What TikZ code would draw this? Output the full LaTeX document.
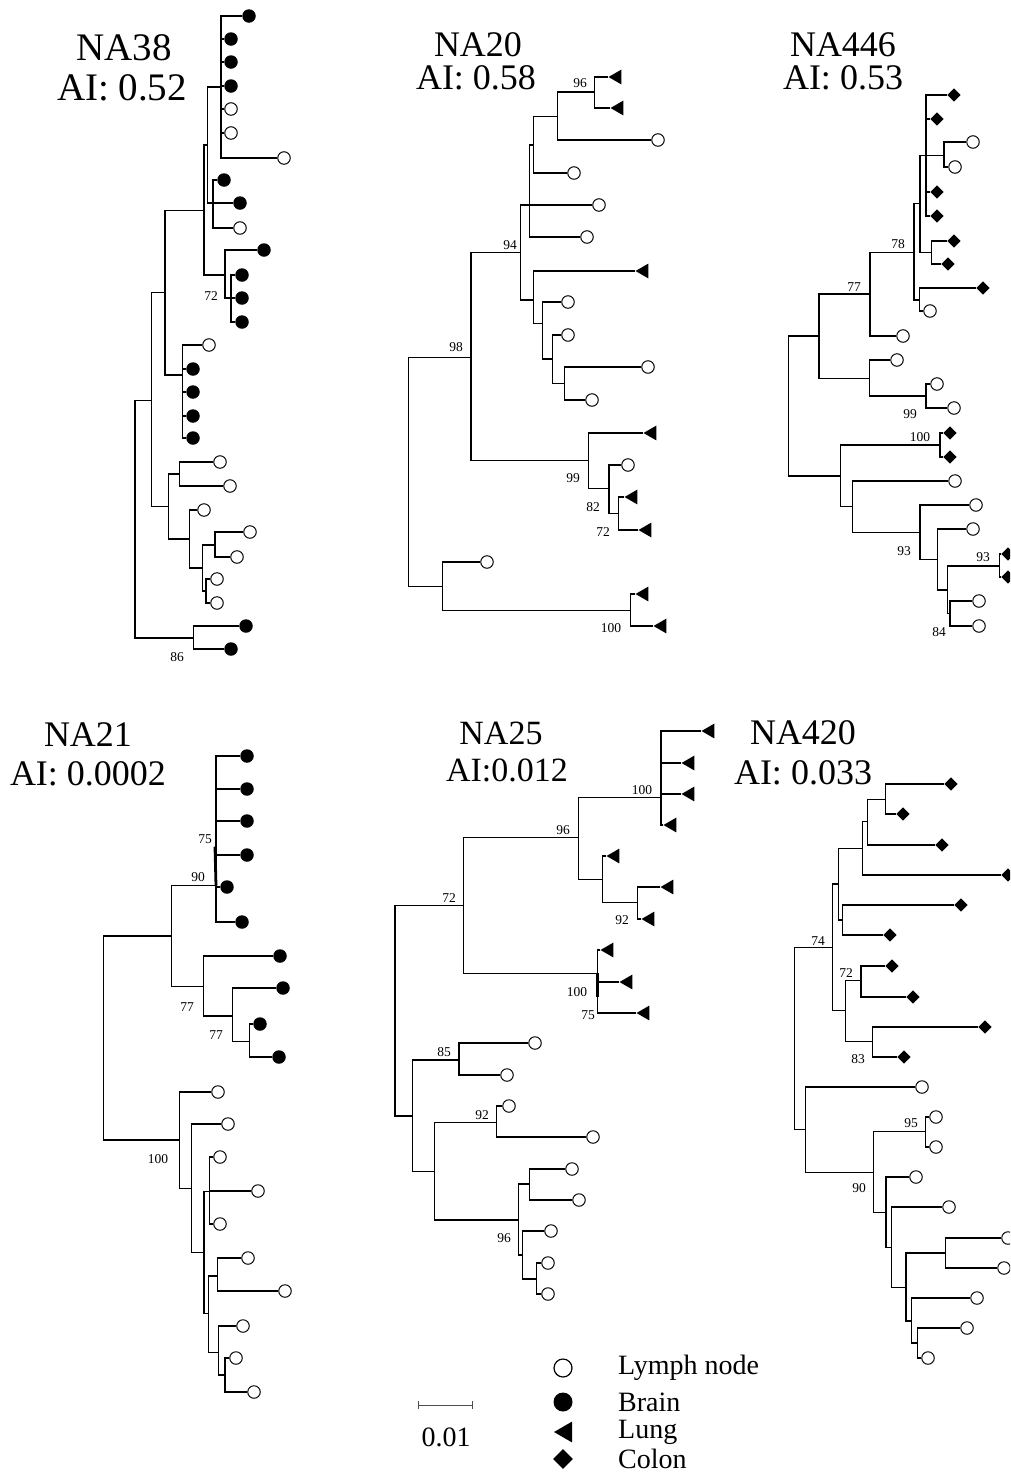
\documentclass[tikz,border=0pt]{standalone}
\usepackage{fontspec}
\setmainfont{Liberation Serif}
\usetikzlibrary{shapes.geometric}
\tikzset{
 br/.style={line width=1.35pt},
 lo/.style={circle, draw, line width=1pt, fill=white, minimum size=12.5pt, inner sep=0pt},
 lf/.style={circle, fill=black, minimum size=13.5pt, inner sep=0pt},
 lt/.style={regular polygon, regular polygon sides=3, shape border rotate=90, fill=black, minimum size=17pt, inner sep=0pt},
 ld/.style={diamond, fill=black, minimum size=13.5pt, inner sep=0pt},
 bs/.style={font=\fontsize{13.5}{13.5}\selectfont, inner sep=0pt},
 ttl/.style={font=\fontsize{36}{36}\selectfont, inner sep=0pt},
 lg/.style={font=\fontsize{28}{28}\selectfont, inner sep=0pt, anchor=west},
 thk/.style={line width=2.8pt},
}
\newcommand\Lf[4]{\node[#2] (#1) at (#3,#4) {};}
\newcommand\Cd[3]{\coordinate (#1) at (#2,#3);}
\newcommand\Ed[2]{\foreach \ch in {#2} {\draw[br] (#1) |- (\ch);}}
\newcommand\Lb[4]{\node[bs] (#1) at (#2,#3) {#4};}
\begin{document}
\begin{tikzpicture}[x=1pt,y=-1pt]
\useasboundingbox (0,0) rectangle (1010,1473);
\clip (0,0) rectangle (1010,1473);
\fill[white] (0,0) rectangle (1010,1473);

% ================= NA38 =================
\node[ttl, font=\fontsize{39}{39}\selectfont] (t38a) at (124,48) {NA38};
\node[ttl, font=\fontsize{39}{39}\selectfont] (t38b) at (122,88) {AI: 0.52};
\Lf{a1}{lf}{249}{16}\Lf{a2}{lf}{231}{39}\Lf{a3}{lf}{231}{62}\Lf{a4}{lf}{231}{86}
\Lf{a5}{lo}{231}{109}\Lf{a6}{lo}{231}{133}\Lf{a7}{lo}{284}{158}
\Lf{a8}{lf}{224}{180}\Lf{a9}{lf}{240}{203}\Lf{a10}{lo}{240}{228}
\Lf{a11}{lf}{264}{250}\Lf{a12}{lf}{242}{275}\Lf{a13}{lf}{242}{298}\Lf{a14}{lf}{242}{322}
\Lf{a15}{lo}{209}{345}\Lf{a16}{lf}{193}{369}\Lf{a17}{lf}{193}{392}\Lf{a18}{lf}{193}{416}\Lf{a19}{lf}{193}{438}
\Lf{a20}{lo}{220}{462}\Lf{a21}{lo}{230}{486}\Lf{a22}{lo}{204}{510}\Lf{a23}{lo}{250}{532}\Lf{a24}{lo}{237}{557}
\Lf{a25}{lo}{217}{579}\Lf{a26}{lo}{217}{603}\Lf{a27}{lf}{246}{626}\Lf{a28}{lf}{231}{649}
\Cd{an1}{221}{87}\Cd{an2}{213}{203}\Cd{an3}{207.7}{145}\Cd{an5}{231}{298}\Cd{an6}{225}{275}
\Cd{an4}{204}{210.7}\Cd{an7}{182.3}{375}\Cd{an8}{165}{292.3}\Cd{an9}{179.3}{474}
\Cd{an10}{215}{545}\Cd{an11}{206}{591}\Cd{an12}{202.3}{568}\Cd{an13}{189.3}{539}
\Cd{an14}{168.3}{506.7}\Cd{an15}{151.7}{400.7}\Cd{an16}{193.3}{638}\Cd{r38}{135}{520}
\Ed{an1}{a1,a2,a3,a4,a5,a6,a7}
\Ed{an2}{a8,a9,a10}
\Ed{an3}{an1,an2}
\Ed{an5}{a12,a13,a14}
\Ed{an6}{a11,an5}
\Ed{an4}{an3,an6}
\Ed{an7}{a15,a16,a17,a18,a19}
\Ed{an8}{an4,an7}
\Ed{an9}{a20,a21}
\Ed{an10}{a23,a24}
\Ed{an11}{a25,a26}
\Ed{an12}{an10,an11}
\Ed{an13}{a22,an12}
\Ed{an14}{an9,an13}
\Ed{an15}{an8,an14}
\Ed{an16}{a27,a28}
\Ed{r38}{an15,an16}
\Lb{la72}{211}{296}{72}
\Lb{la86}{177}{657}{86}

% ================= NA20 =================
\node[ttl] (t20a) at (478,45) {NA20};
\node[ttl] (t20b) at (476,78) {AI: 0.58};
\Lf{b1}{lt}{617}{77}\Lf{b2}{lt}{619}{108}\Lf{b3}{lo}{658}{140}\Lf{b4}{lo}{574}{173}
\Lf{b5}{lo}{599}{205}\Lf{b6}{lo}{587}{237}\Lf{b7}{lt}{644}{271}\Lf{b8}{lo}{568}{302}
\Lf{b9}{lo}{568}{335}\Lf{b10}{lo}{648}{367}\Lf{b11}{lo}{592}{400}
\Lf{b12}{lt}{652}{433}\Lf{b13}{lo}{628}{465}\Lf{b14}{lt}{633}{497}\Lf{b15}{lt}{647}{530}
\Lf{b16}{lo}{487}{562}\Lf{b17}{lt}{644}{594}\Lf{b18}{lt}{662}{626}
\Cd{m1}{594.3}{92}\Cd{m2}{557.3}{116.7}\Cd{m3}{533.3}{145}\Cd{m4}{529.3}{205}
\Cd{m5}{564.3}{383.3}\Cd{m6}{552.7}{359}\Cd{m7}{542.7}{323.3}\Cd{m8}{533.3}{300}
\Cd{m94}{520.7}{252.7}\Cd{m72}{618.3}{513.3}\Cd{m82}{609}{488.3}\Cd{m99}{588.3}{460.7}
\Cd{m98}{471}{357.3}\Cd{m100}{630.7}{610.7}\Cd{m9}{442.7}{586.7}\Cd{r20}{408.3}{472}
\Ed{m1}{b1,b2}
\Ed{m2}{m1,b3}
\Ed{m3}{m2,b4}
\Ed{m4}{m3,b5,b6}
\Ed{m5}{b10,b11}
\Ed{m6}{b9,m5}
\Ed{m7}{b8,m6}
\Ed{m8}{b7,m7}
\Ed{m94}{m4,m8}
\Ed{m72}{b14,b15}
\Ed{m82}{b13,m72}
\Ed{m99}{b12,m82}
\Ed{m98}{m94,m99}
\Ed{m100}{b17,b18}
\Ed{m9}{b16,m100}
\Ed{r20}{m98,m9}
\Lb{lb96}{580}{83}{96}
\Lb{lb94}{510}{245}{94}
\Lb{lb98}{456}{347}{98}
\Lb{lb99}{573}{478}{99}
\Lb{lb82}{593}{507}{82}
\Lb{lb72}{603}{532}{72}
\Lb{lb100}{611}{628}{100}

% ================= NA446 =================
\node[ttl] (t446a) at (843,45) {NA446};
\node[ttl] (t446b) at (843,78) {AI: 0.53};
\Lf{c1}{ld}{954}{95}\Lf{c2}{ld}{937}{119}\Lf{c3}{lo}{973}{142}\Lf{c4}{lo}{955}{167}
\Lf{c5}{ld}{937}{192}\Lf{c6}{ld}{937}{216}\Lf{c7}{ld}{954}{241}\Lf{c8}{ld}{948}{264}
\Lf{c9}{ld}{983}{288}\Lf{c10}{lo}{930}{311}\Lf{c11}{lo}{903}{336}\Lf{c12}{lo}{897}{360}
\Lf{c13}{lo}{937}{384}\Lf{c14}{lo}{954}{408}\Lf{c15}{ld}{950}{433}\Lf{c16}{ld}{950}{457}
\Lf{c17}{lo}{955}{481}\Lf{c18}{lo}{976}{505}\Lf{c19}{lo}{973}{529}
\Lf{c20}{ld}{1008}{554}\Lf{c21}{ld}{1008}{577}\Lf{c22}{lo}{979}{601}\Lf{c23}{lo}{979}{626}
\Cd{k1}{944}{155.7}\Cd{k2}{926}{155.7}\Cd{k3}{931.7}{252.3}\Cd{kQ}{920}{203.3}
\Cd{k4}{919.3}{300}\Cd{k78}{914}{252.3}\Cd{k77}{870}{294}\Cd{k99}{926}{396}
\Cd{k5}{869.3}{378.3}\Cd{k6}{819}{336}\Cd{k100}{940}{445}\Cd{k93b}{999.3}{566}
\Cd{k84}{950}{613.3}\Cd{k7}{947.7}{590}\Cd{k8}{937.7}{559.3}\Cd{k93a}{920}{532.3}
\Cd{k9}{852.7}{506.7}\Cd{k10}{840.7}{476}\Cd{r446}{788.3}{406}
\Ed{k1}{c3,c4}
\Ed{k2}{c1,c2,k1,c5,c6}
\Ed{k3}{c7,c8}
\Ed{kQ}{k2,k3}
\Ed{k4}{c9,c10}
\Ed{k78}{kQ,k4}
\Ed{k77}{k78,c11}
\Ed{k99}{c13,c14}
\Ed{k5}{c12,k99}
\Ed{k6}{k77,k5}
\Ed{k100}{c15,c16}
\Ed{k93b}{c20,c21}
\Ed{k84}{c22,c23}
\Ed{k7}{k93b,k84}
\Ed{k8}{c19,k7}
\Ed{k93a}{c18,k8}
\Ed{k9}{c17,k93a}
\Ed{k10}{k100,k9}
\Ed{r446}{k6,k10}
\Lb{lc78}{898}{244}{78}
\Lb{lc77}{854}{287}{77}
\Lb{lc99}{910}{414}{99}
\Lb{lc100}{920}{437}{100}
\Lb{lc93a}{904}{551}{93}
\Lb{lc93b}{983}{557}{93}
\Lb{lc84}{939}{632}{84}

% ================= NA21 =================
\node[ttl] (t21a) at (88,735) {NA21};
\node[ttl] (t21b) at (88,774) {AI: 0.0002};
\Lf{d1}{lf}{247}{756}\Lf{d2}{lf}{247}{789}\Lf{d3}{lf}{247}{821}\Lf{d4}{lf}{247}{855}
\Lf{d5}{lf}{227}{887}\Lf{d6}{lf}{242}{922}\Lf{d7}{lf}{280}{956}\Lf{d8}{lf}{283}{988}
\Lf{d9}{lf}{260}{1024}\Lf{d10}{lf}{279}{1057}
\Lf{f1}{lo}{218}{1092}\Lf{f2}{lo}{228}{1124}\Lf{f3}{lo}{220}{1157}\Lf{f4}{lo}{258}{1191}
\Lf{f5}{lo}{220}{1224}\Lf{f6}{lo}{248}{1258}\Lf{f7}{lo}{285}{1291}\Lf{f8}{lo}{243}{1326}
\Lf{f9}{lo}{236}{1358}\Lf{f10}{lo}{254}{1392}
\Cd{e90}{216}{885.7}\Cd{e1}{249.3}{1041.7}\Cd{e77b}{232.7}{1016}\Cd{e77a}{203.3}{986.7}
\Cd{e2}{171.7}{936}\Cd{e3}{209.3}{1191.7}\Cd{e4}{217.7}{1276}\Cd{e5}{225}{1375}
\Cd{e6}{218.3}{1352.7}\Cd{e7}{208.3}{1313.3}\Cd{e8}{204}{1252.7}\Cd{e9}{191.7}{1188.3}
\Cd{e100}{179.3}{1140}\Cd{r21}{103.3}{1038}
\Ed{e90}{d1,d2,d3,d4,d5,d6}
\draw[thk] (e90) -- ++(-1,-39);
\Ed{e1}{d9,d10}
\Ed{e77b}{d8,e1}
\Ed{e77a}{d7,e77b}
\Ed{e2}{e90,e77a}
\Ed{e3}{f3,f4,f5}
\Ed{e4}{f6,f7}
\Ed{e5}{f9,f10}
\Ed{e6}{f8,e5}
\Ed{e7}{e4,e6}
\Ed{e8}{e3,e7}
\Ed{e9}{f2,e8}
\Ed{e100}{f1,e9}
\Ed{r21}{e2,e100}
\Lb{ld75}{205}{839}{75}
\Lb{ld90}{198}{877}{90}
\Lb{ld77a}{187}{1007}{77}
\Lb{ld77b}{216}{1035}{77}
\Lb{ld100}{158}{1159}{100}

% ================= NA25 =================
\node[ttl, font=\fontsize{34}{34}\selectfont] (t25a) at (501,733) {NA25};
\node[ttl, font=\fontsize{34}{34}\selectfont] (t25b) at (507,770) {AI:0.012};
\Lf{g1}{lt}{710}{731}\Lf{g2}{lt}{690}{763}\Lf{g3}{lt}{690}{794}\Lf{g4}{lt}{672}{825}
\Lf{g5}{lt}{615}{856}\Lf{g6}{lt}{669}{887}\Lf{g7}{lt}{650}{919}
\Lf{g8}{lt}{609}{950}\Lf{g9}{lt}{628}{982}\Lf{g10}{lt}{645}{1013}
\Lf{g11}{lo}{535}{1043}\Lf{g12}{lo}{507}{1075}\Lf{g13}{lo}{509}{1106}\Lf{g14}{lo}{593}{1137}
\Lf{g15}{lo}{572}{1169}\Lf{g16}{lo}{579}{1200}\Lf{g17}{lo}{551}{1231}\Lf{g18}{lo}{548}{1263}
\Lf{g19}{lo}{548}{1294}
\Cd{h100a}{661}{797.7}\Cd{h92}{637.7}{902.7}\Cd{h1}{602.3}{879.3}\Cd{h96}{578.3}{837.7}
\Cd{h100b}{597.3}{973.3}\Cd{h72}{463.3}{905.7}\Cd{h85}{459}{1060}\Cd{h92b}{496.7}{1122.7}
\Cd{h2}{529.3}{1184}\Cd{h3}{536.7}{1279}\Cd{h4}{522.3}{1255}\Cd{h96b}{518.3}{1220}
\Cd{h5}{434.3}{1171.7}\Cd{h6}{412.3}{1116}\Cd{r25}{395}{1011}
\Ed{h100a}{g1,g2,g3,g4}
\draw[thk] (h100a) -- ++(0,-28);
\Ed{h92}{g6,g7}
\Ed{h1}{g5,h92}
\Ed{h96}{h100a,h1}
\Ed{h100b}{g8,g9,g10}
\draw[thk] (h100b) -- ++(0,24);
\Ed{h72}{h96,h100b}
\Ed{h85}{g11,g12}
\Ed{h92b}{g13,g14}
\Ed{h2}{g15,g16}
\Ed{h3}{g18,g19}
\Ed{h4}{g17,h3}
\Ed{h96b}{h2,h4}
\Ed{h5}{h92b,h96b}
\Ed{h6}{h85,h5}
\Ed{r25}{h72,h6}
\Lb{lg100a}{642}{790}{100}
\Lb{lg96}{563}{830}{96}
\Lb{lg72}{449}{898}{72}
\Lb{lg92}{622}{920}{92}
\Lb{lg100b}{577}{992}{100}
\Lb{lg75}{588}{1015}{75}
\Lb{lg85}{444}{1052}{85}
\Lb{lg92b}{482}{1115}{92}
\Lb{lg96b}{504}{1238}{96}

% ================= NA420 =================
\node[ttl] (t420a) at (803,733) {NA420};
\node[ttl] (t420b) at (803,773) {AI: 0.033};
\Lf{p1}{ld}{951}{784}\Lf{p2}{ld}{903}{814}\Lf{p3}{ld}{942}{845}\Lf{p4}{ld}{1008}{875}
\Lf{p5}{ld}{961}{905}\Lf{p6}{ld}{890}{935}\Lf{p7}{ld}{892}{966}\Lf{p8}{ld}{913}{997}
\Lf{p9}{ld}{985}{1027}\Lf{p10}{ld}{904}{1057}
\Lf{s1}{lo}{922}{1087}\Lf{s2}{lo}{936}{1117}\Lf{s3}{lo}{936}{1147}\Lf{s4}{lo}{916}{1177}
\Lf{s5}{lo}{949}{1207}\Lf{s6}{lo}{1008}{1238}\Lf{s7}{lo}{1004}{1268}\Lf{s8}{lo}{977}{1298}
\Lf{s9}{lo}{967}{1328}\Lf{s10}{lo}{928}{1358}
\Cd{q1}{885.7}{799.3}\Cd{q2}{867.3}{821.7}\Cd{q3}{862.7}{848.3}\Cd{q4}{842.7}{920}
\Cd{q5}{838.3}{884}\Cd{q72}{861}{980.7}\Cd{q83}{872.7}{1041.7}\Cd{q6}{845.7}{1010.7}
\Cd{q74}{832.3}{947.7}\Cd{q95}{925.7}{1131.7}\Cd{q7}{945.7}{1253}\Cd{q8}{917.3}{1343}
\Cd{q9}{911.7}{1321}\Cd{q10}{906}{1287.3}\Cd{q11}{891.7}{1247.3}\Cd{q12}{886}{1212.3}
\Cd{q90}{873.3}{1172.3}\Cd{q13}{805.7}{1129.3}\Cd{r420}{794.3}{1038}
\Ed{q1}{p1,p2}
\Ed{q2}{q1,p3}
\Ed{q3}{q2,p4}
\Ed{q4}{p5,p6}
\Ed{q5}{q3,q4}
\Ed{q72}{p7,p8}
\Ed{q83}{p9,p10}
\Ed{q6}{q72,q83}
\Ed{q74}{q5,q6}
\Ed{q95}{s2,s3}
\Ed{q7}{s6,s7}
\Ed{q8}{s9,s10}
\Ed{q9}{s8,q8}
\Ed{q10}{q7,q9}
\Ed{q11}{s5,q10}
\Ed{q12}{s4,q11}
\Ed{q90}{q95,q12}
\Ed{q13}{s1,q90}
\Ed{r420}{q74,q13}
\Lb{lq74}{818}{941}{74}
\Lb{lq72}{846}{973}{72}
\Lb{lq83}{858}{1059}{83}
\Lb{lq95}{911}{1123}{95}
\Lb{lq90}{859}{1188}{90}

% ================= legend =================
\coordinate (sb0) at (418,1405);
\coordinate (sb1) at (472,1405);
\draw[line width=0.9pt, black!70] (sb0) -- (sb1);
\draw[line width=0.9pt, black!70] ([yshift=4pt]sb0) -- ([yshift=-4pt]sb0);
\draw[line width=0.9pt, black!70] ([yshift=4pt]sb1) -- ([yshift=-4pt]sb1);
\node[font=\fontsize{28}{28}\selectfont, inner sep=0pt] (sbt) at (446,1437) {0.01};
\node[lo, minimum size=18pt, line width=1.2pt] (kk1) at (563,1368) {};
\node[lf, minimum size=19pt] (kk2) at (563,1402) {};
\node[lt, minimum size=24pt] (kk3) at (566,1432) {};
\node[ld, minimum size=20pt] (kk4) at (563,1459) {};
\node[lg] (kt1) at (618,1368) {Lymph node};
\node[lg] (kt2) at (618,1402) {Brain};
\node[lg] (kt3) at (618,1432) {Lung};
\node[lg] (kt4) at (618,1459) {Colon};
\end{tikzpicture}
\end{document}
